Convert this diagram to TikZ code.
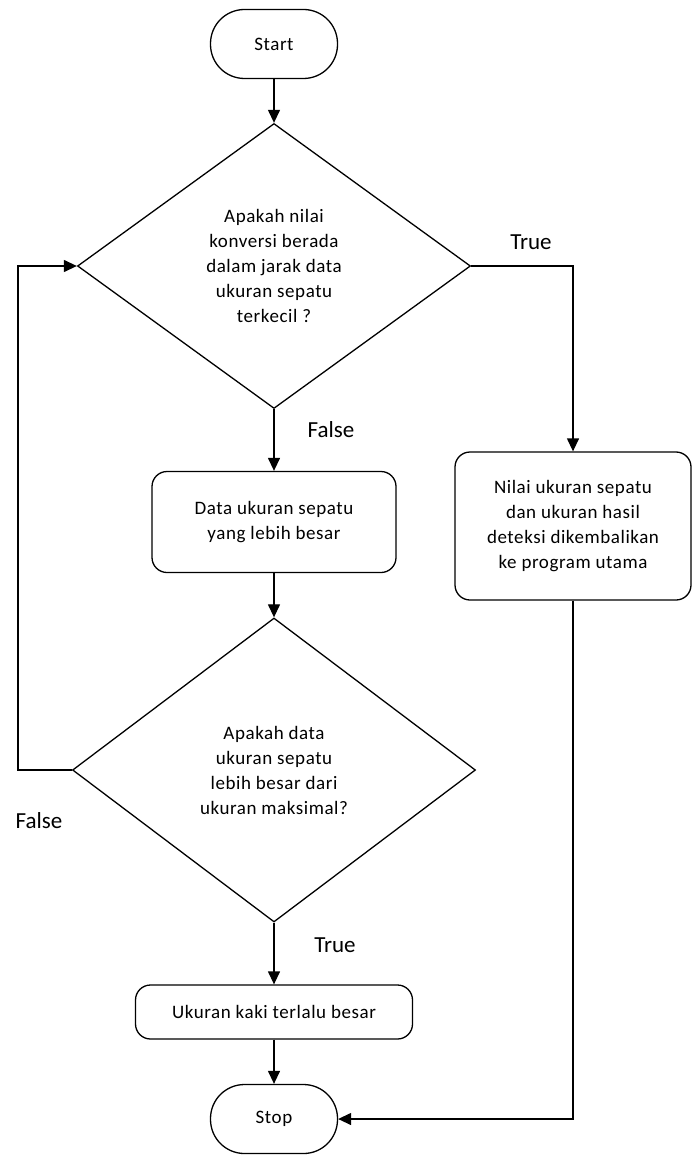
\documentclass[tikz,border=0pt]{standalone}
\usepackage{fontspec}
\setmainfont{Carlito}
\newfontfamily\boxfont{Carlito}[LetterSpace=3]
\usetikzlibrary{shapes.geometric, arrows.meta}
\tikzstyle{terminal} = [rectangle, rounded corners=34pt, minimum width=127pt, minimum height=69pt, text centered, draw=black, line width=1.3pt, font=\boxfont\fontsize{19}{25}\selectfont]
\tikzstyle{process} = [rectangle, rounded corners=15pt, text centered, draw=black, line width=1.3pt, align=center, font=\boxfont\fontsize{19}{25}\selectfont]
\tikzstyle{decision} = [diamond, inner sep=0pt, text centered, draw=black, line width=1.3pt, align=center, font=\boxfont\fontsize{19}{25}\selectfont]
\tikzstyle{branch} = [font=\fontsize{23}{27}\selectfont]
\tikzstyle{arrow} = [line width=1.3pt, -{Triangle[length=13pt, width=12pt]}]

\begin{document}
\begin{tikzpicture}[x=1pt, y=-1pt]
\useasboundingbox (0,0) rectangle (691,1155);

% Column 1 - Main flow
\node (start) [terminal] at (274,44) {Start};
\node (cekKecil) [decision, minimum width=393pt, minimum height=285pt] at (274,266) {Apakah nilai\\konversi berada\\dalam jarak data\\ukuran sepatu\\terkecil ?};
\node (dataBesar) [process, minimum width=244pt, minimum height=101pt] at (274,522) {Data ukuran sepatu\\yang lebih besar};
\node (cekMaks) [decision, minimum width=403pt, minimum height=304pt] at (274,770) {Apakah data\\ukuran sepatu\\lebih besar dari\\ukuran maksimal?};
\node (terlaluBesar) [process, minimum width=277pt, minimum height=54pt] at (274,1012) {Ukuran kaki terlalu besar};
\node (stop) [terminal] at (274,1119) {Stop};

% Column 2 - Result
\node (hasil) [process, minimum width=236pt, minimum height=148pt] at (573,526) {Nilai ukuran sepatu\\dan ukuran hasil\\deteksi dikembalikan\\ke program utama};

% Loop corner
\coordinate (loopL) at (18,770);

% Branch labels
\node (lblTrue1) [branch] at (531,242) {True};
\node (lblFalse1) [branch] at (331,430) {False};
\node (lblFalse2) [branch] at (39,821) {False};
\node (lblTrue2) [branch] at (335,945) {True};

% Column 1 - Arrows
\draw [arrow] (start) -- (cekKecil);
\draw [arrow] (cekKecil) -- (dataBesar);
\draw [arrow] (dataBesar) -- (cekMaks);
\draw [arrow] (cekMaks) -- (terlaluBesar);
\draw [arrow] (terlaluBesar) -- (stop);
\draw [arrow] (cekMaks.west) -- (loopL) |- (cekKecil.west);

% Column 2 - Arrows
\draw [arrow] (cekKecil.east) -| (hasil.north);
\draw [arrow] (hasil.south) |- (stop.east);

\end{tikzpicture}
\end{document}
